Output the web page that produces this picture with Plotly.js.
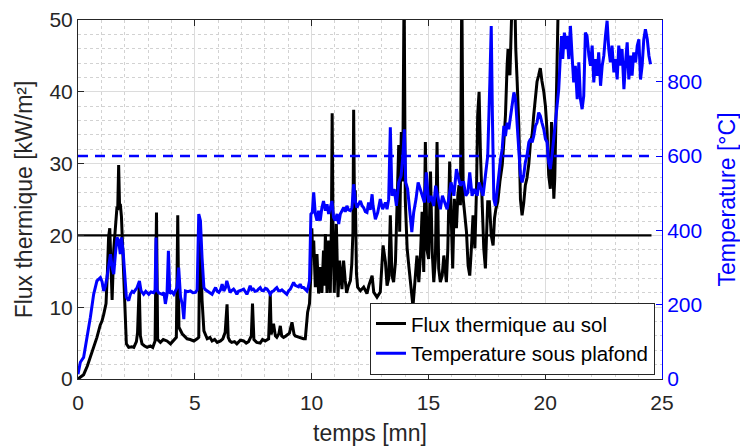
<!DOCTYPE html>
<html>
<head>
<meta charset="utf-8">
<script src="https://cdn.plot.ly/plotly-3.0.1.min.js"></script>
<style>html,body{margin:0;padding:0;background:#fff;}#chart{width:740px;height:446px;}</style>
</head>
<body>
<div id="chart"></div>
<script>
// Flux thermique au sol (kW/m²) vs temps (mn)
const fluxTime = [0,0.1,0.24,0.4,0.53,0.67,0.81,0.95,1.03,1.1,1.2,1.26,1.31,1.36,1.41,1.46,1.53,1.6,1.67,1.7,1.74,1.78,1.81,1.86,1.91,1.99,2.07,2.17,2.3,2.39,2.5,2.55,2.62,2.67,2.74,2.85,2.96,3.1,3.2,3.3,3.36,3.41,3.53,3.65,3.81,3.96,4.1,4.21,4.27,4.32,4.46,4.6,4.67,4.8,4.96,5.1,5.17,5.22,5.27,5.31,5.39,5.53,5.65,5.74,5.85,5.96,6.1,6.2,6.3,6.38,6.43,6.5,6.58,6.7,6.8,6.95,7.09,7.2,7.3,7.42,7.47,7.53,7.65,7.8,7.9,8.01,8.16,8.23,8.27,8.37,8.45,8.51,8.6,8.66,8.72,8.8,8.9,9.05,9.16,9.25,9.3,9.44,9.55,9.65,9.73,9.83,9.91,9.97,10.01,10.05,10.09,10.16,10.23,10.3,10.37,10.44,10.51,10.55,10.59,10.66,10.73,10.8,10.85,10.88,10.92,10.97,11.02,11.06,11.13,11.2,11.3,11.37,11.44,11.5,11.56,11.66,11.72,11.77,11.8,11.84,11.87,11.92,11.97,12.09,12.23,12.37,12.45,12.59,12.66,12.8,12.94,13.06,13.16,13.23,13.3,13.37,13.44,13.51,13.59,13.66,13.73,13.77,13.84,13.9,13.96,14.01,14.09,14.16,14.23,14.3,14.34,14.4,14.51,14.59,14.66,14.73,14.8,14.87,14.94,15.01,15.09,15.16,15.23,15.3,15.37,15.44,15.51,15.59,15.66,15.77,15.83,15.91,15.97,16.04,16.11,16.2,16.26,16.31,16.37,16.43,16.49,16.56,16.63,16.7,16.77,16.84,16.91,16.99,17.06,17.11,17.17,17.23,17.3,17.37,17.44,17.49,17.54,17.61,17.69,17.77,17.83,17.89,17.97,18.06,18.16,18.23,18.3,18.37,18.41,18.49,18.54,18.6,18.69,18.74,18.8,18.87,18.94,19.01,19.08,19.15,19.22,19.3,19.37,19.44,19.51,19.58,19.65,19.72,19.79,19.86,19.94,20.01,20.08,20.15,20.22,20.27,20.33,20.37,20.41,20.47,20.51,20.58];
const fluxValues = [0,0.2,0.6,1.8,3,4.4,5.8,7.5,8.1,9,10.5,15,19.8,21,13.7,11,18,21,24,23.5,29.8,24,24.4,22.6,18,11,4.9,4.4,4.5,4.4,5.2,6.5,13,6,4.9,4.6,4.4,4.6,4.4,5.3,23.2,5.5,5.1,5.5,5.3,4.9,5.4,5.8,22.8,7.2,6.3,5.8,5.6,5.5,5.3,5.6,5.8,22,14,11,6.7,5.6,5.8,5.3,5.5,5.1,5.3,5.6,6.5,10.4,5.8,5.3,5.1,5.2,4.9,5.4,5.3,5.0,5.2,6,10.5,5.5,5.1,5.0,5.5,5.3,5.6,11.8,6.2,7.7,6,5.8,6.3,7.4,6,5.8,6,6.4,7.9,6.2,6.0,5.8,5.7,5.6,5.6,9.3,10.5,14.7,21,17,19.3,12.8,17.4,11.9,15.6,12,17.9,13,20.2,12,19.3,12,22,37,20,12,18,21.6,11.4,16.5,12.5,16.5,13.7,12,12.8,13.7,16,20.5,37.5,22,26.3,14.7,12.8,12.3,12.8,11.9,13,14.4,12.1,11.4,12.1,18.6,16.3,13,14,22.8,14.4,13.5,16.3,23.7,32.6,20.5,34.4,27.5,55,25,18.2,15.8,13.5,12.1,10.1,12.6,17.2,13.5,17.2,23.3,14.9,33,18,16.7,28.9,18,13.5,16.7,33,15.4,13.5,14.4,17.2,13.5,18,30.3,22.8,15.4,25.1,21,25.6,27,24.2,55,25.1,22.8,20.5,15.8,14.4,18.2,22.8,18.2,26.5,36.8,40,31.2,22.8,18.2,15.4,20.5,24.7,24.7,20,18.6,22.4,23.7,24.7,27.5,29.8,33,36.8,43.7,46,42.3,47.9,55,55,46,41.4,35.4,25,22.8,24.5,27,28,30,33,34,36.8,39,41.4,42.3,43.3,41.5,40,38,34.5,28.4,26.5,35.8,27,25.1,28,37.7,46,56];

// Temperature sous plafond (°C) vs temps (mn)
const tempTime = [0,0.1,0.24,0.39,0.53,0.67,0.81,0.96,1.03,1.1,1.17,1.24,1.31,1.39,1.46,1.53,1.6,1.67,1.74,1.81,1.86,1.93,1.99,2.07,2.17,2.24,2.32,2.39,2.46,2.53,2.63,2.7,2.81,2.9,3.03,3.12,3.24,3.3,3.34,3.38,3.45,3.6,3.68,3.74,3.81,3.87,3.93,4.02,4.1,4.18,4.24,4.31,4.35,4.39,4.47,4.53,4.6,4.7,4.81,4.92,5.03,5.1,5.17,5.24,5.31,5.39,5.46,5.53,5.64,5.74,5.82,5.89,5.96,6.03,6.1,6.17,6.24,6.31,6.37,6.46,6.51,6.58,6.66,6.73,6.8,6.87,6.94,7.02,7.09,7.16,7.23,7.3,7.37,7.44,7.51,7.58,7.66,7.73,7.8,7.87,7.94,8.02,8.09,8.16,8.23,8.3,8.37,8.44,8.51,8.58,8.66,8.73,8.8,8.87,8.94,9.02,9.09,9.16,9.23,9.3,9.37,9.44,9.51,9.58,9.66,9.73,9.8,9.86,9.91,9.97,10.03,10.09,10.16,10.23,10.3,10.37,10.44,10.51,10.59,10.66,10.73,10.8,10.87,10.94,11.01,11.09,11.16,11.23,11.3,11.37,11.44,11.51,11.58,11.66,11.73,11.8,11.87,11.94,12.01,12.09,12.16,12.23,12.3,12.37,12.44,12.51,12.59,12.63,12.73,12.83,12.94,13.04,13.16,13.23,13.3,13.37,13.44,13.54,13.63,13.73,13.83,13.91,13.97,14.03,14.11,14.2,14.29,14.37,14.47,14.56,14.66,14.73,14.83,14.91,15.01,15.11,15.23,15.31,15.41,15.51,15.6,15.69,15.8,15.89,15.97,16.09,16.2,16.3,16.37,16.44,16.51,16.6,16.69,16.77,16.87,16.97,17.09,17.17,17.26,17.34,17.44,17.54,17.63,17.69,17.74,17.8,17.87,17.94,18.01,18.09,18.16,18.23,18.3,18.37,18.44,18.51,18.59,18.66,18.73,18.8,18.87,18.94,19.01,19.08,19.15,19.22,19.3,19.37,19.44,19.51,19.58,19.65,19.72,19.79,19.86,19.94,20.01,20.08,20.15,20.22,20.29,20.36,20.44,20.51,20.58,20.65,20.7,20.75,20.82,20.89,20.94,21.01,21.08,21.15,21.22,21.29,21.37,21.44,21.51,21.58,21.65,21.72,21.79,21.87,21.94,22.01,22.08,22.15,22.22,22.29,22.37,22.44,22.51,22.58,22.65,22.72,22.79,22.86,22.94,23.01,23.08,23.15,23.22,23.29,23.37,23.44,23.51,23.58,23.65,23.72,23.79,23.87,23.94,24.01,24.08,24.15,24.22,24.29,24.37,24.44,24.51];
const tempValues = [13,45,58,112,166,228,264,273,262,237,250,273,300,336,300,282,336,381,372,336,381,345,291,220,211,228,236,233,240,246,264,237,228,236,228,234,232,240,381,240,232,228,232,202,228,345,230,235,228,238,246,300,250,220,200,161,237,235,237,232,233,240,444,426,327,246,240,237,232,228,238,246,236,233,240,255,237,245,264,240,233,238,242,236,228,236,237,240,242,236,228,238,251,240,242,236,237,242,246,238,237,244,242,236,228,235,237,242,246,238,237,240,237,232,228,238,242,250,260,252,251,248,255,246,246,242,237,248,264,444,448,502,444,426,453,426,461,479,453,470,444,461,479,435,426,444,417,444,452,461,450,466,455,453,461,524,479,461,470,479,466,461,450,448,475,455,497,466,430,448,484,457,475,457,484,677,493,511,466,529,547,601,672,529,511,457,395,448,484,529,511,493,475,556,475,493,466,520,484,457,493,475,457,493,529,493,565,538,520,529,529,493,502,556,493,511,493,529,511,493,547,601,798,950,708,484,466,511,547,592,619,681,654,690,672,708,735,771,753,681,619,548,529,548,583,601,637,646,637,654,681,690,717,708,690,672,646,637,583,565,601,646,690,726,780,870,923,861,932,888,923,861,950,870,798,843,753,852,753,726,762,932,923,870,843,897,798,861,816,879,789,843,870,923,964,888,852,897,825,861,806,897,843,888,780,852,906,806,870,816,879,852,897,914,806,843,914,941,914,870,847];

// Reference levels
const refTime = [0, 24.55];
const fluxLimit = [20, 20];
const tempLimit = [600, 600];

const xTicks = [0, 5, 10, 15, 20, 25];
const yTicks = [0, 10, 20, 30, 40, 50];
const y2Ticks = [0, 200, 400, 600, 800];

const FONT = '"Liberation Sans", Arial, Helvetica, sans-serif';
const AX = '#262626';

const traces = [
  {x: fluxTime, y: fluxValues, type: 'scatter', mode: 'lines', name: 'Flux thermique au sol',
   line: {color: '#000000', width: 3}, yaxis: 'y'},
  {x: refTime, y: fluxLimit, type: 'scatter', mode: 'lines', showlegend: false,
   line: {color: '#000000', width: 2.2}, yaxis: 'y'},
  {x: tempTime, y: tempValues, type: 'scatter', mode: 'lines', name: 'Temperature sous plafond',
   line: {color: '#0000ff', width: 3}, yaxis: 'y2'},
  {x: refTime, y: tempLimit, type: 'scatter', mode: 'lines', showlegend: false,
   line: {color: '#0000ff', width: 2.4, dash: '10px,7px'}, yaxis: 'y2'}
];

const layout = {
  width: 740, height: 446,
  margin: {l: 78, r: 78, t: 20, b: 67, pad: 0},
  paper_bgcolor: '#ffffff', plot_bgcolor: '#ffffff',
  font: {family: FONT, color: AX},
  showlegend: true,
  legend: {x: 0.988, xanchor: 'right', y: 0.012, yanchor: 'bottom',
           bgcolor: '#ffffff', bordercolor: AX, borderwidth: 1,
           font: {family: FONT, size: 20.5, color: '#000000'}, tracegroupgap: 0},
  xaxis: {range: [0, 25], tickvals: xTicks, ticks: 'inside', ticklen: 6, tickcolor: AX,
          showline: true, linecolor: AX, linewidth: 1, mirror: 'ticks',
          showgrid: true, gridcolor: '#dcdcdc', gridwidth: 1, zeroline: false,
          minor: {dtick: 1, showgrid: true, gridcolor: '#d2d2d2', griddash: 'dot', gridwidth: 1, ticks: ''},
          tickfont: {family: FONT, size: 21, color: AX}, ticklabelstandoff: 5,
          title: {text: 'temps [mn]', font: {family: FONT, size: 23, color: AX}, standoff: 12}},
  yaxis: {range: [0, 50], tickvals: yTicks, ticks: 'inside', ticklen: 6, tickcolor: AX,
          showline: true, linecolor: AX, linewidth: 1, mirror: false,
          showgrid: true, gridcolor: '#dcdcdc', gridwidth: 1, zeroline: false,
          minor: {dtick: 2, showgrid: true, gridcolor: '#d2d2d2', griddash: 'dot', gridwidth: 1, ticks: ''},
          tickfont: {family: FONT, size: 21, color: AX},
          title: {text: 'Flux thermique [kW/m²]', font: {family: FONT, size: 23, color: AX}, standoff: 10}},
  yaxis2: {range: [0, 966], tickvals: y2Ticks, overlaying: 'y', side: 'right',
           ticks: 'inside', ticklen: 6, tickcolor: '#0000ff',
           showline: true, linecolor: '#0000ff', linewidth: 1,
           showgrid: false, zeroline: false,
           tickfont: {family: FONT, size: 21, color: '#0000ff'},
           title: {text: 'Temperature [°C]', font: {family: FONT, size: 23, color: '#0000ff'}, standoff: 20}}
};

Plotly.newPlot('chart', traces, layout, {displayModeBar: false, staticPlot: true});
</script>
</body>
</html>
